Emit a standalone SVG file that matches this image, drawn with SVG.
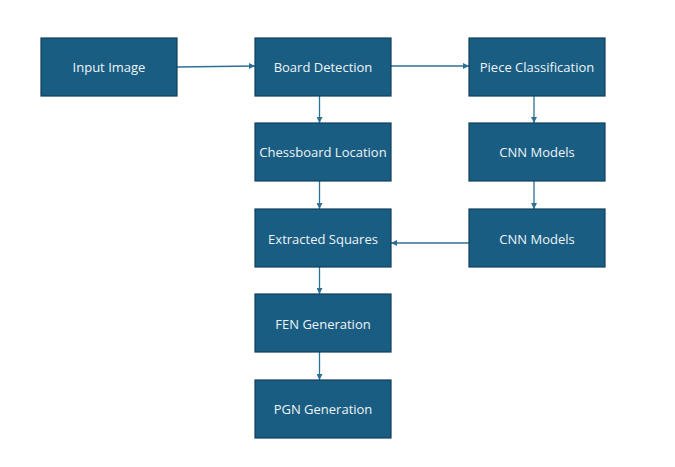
<svg xmlns="http://www.w3.org/2000/svg" width="675" height="467" viewBox="0 0 675 467">
<style>
.box{fill:#1a5d82;stroke:#123f5a;stroke-width:1.2}
.lbl{font-family:"Open Sans","Liberation Sans",sans-serif;font-size:13px;fill:#eef4f8;text-anchor:middle;dominant-baseline:central}
.edge{stroke:#2e6f94;stroke-width:1.3;fill:none;marker-end:url(#arr)}
</style>
<defs>
<marker id="arr" viewBox="0 0 10 10" refX="10" refY="5" markerWidth="6" markerHeight="6" markerUnits="userSpaceOnUse" orient="auto">
<path d="M0,0 L10,5 L0,10 z" fill="#2e6f94"/>
</marker>
</defs>
<rect width="675" height="467" fill="#ffffff"/>
<g id="connectors">
<line class="edge" x1="177" y1="67" x2="255" y2="66"/>
<line class="edge" x1="391" y1="66" x2="469" y2="66"/>
<line class="edge" x1="319.5" y1="96" x2="319.5" y2="123"/>
<line class="edge" x1="534" y1="96" x2="534" y2="123"/>
<line class="edge" x1="319.5" y1="181" x2="319.5" y2="209"/>
<line class="edge" x1="534" y1="181" x2="534" y2="209"/>
<line class="edge" x1="469" y1="243" x2="391" y2="243"/>
<line class="edge" x1="319.5" y1="267" x2="319.5" y2="294"/>
<line class="edge" x1="319.5" y1="352" x2="319.5" y2="380"/>
</g>
<g id="input-image"><rect class="box" x="41" y="38" width="136" height="58"/><text class="lbl" x="109" y="67">Input Image</text></g>
<g id="board-detection"><rect class="box" x="255" y="38" width="136" height="58"/><text class="lbl" x="323" y="67">Board Detection</text></g>
<g id="piece-classification"><rect class="box" x="469" y="38" width="136" height="58"/><text class="lbl" x="537" y="67">Piece Classification</text></g>
<g id="chessboard-location"><rect class="box" x="255" y="123" width="136" height="58"/><text class="lbl" x="323" y="152">Chessboard Location</text></g>
<g id="cnn-models-1"><rect class="box" x="469" y="123" width="136" height="58"/><text class="lbl" x="537" y="152">CNN Models</text></g>
<g id="extracted-squares"><rect class="box" x="255" y="209" width="136" height="58"/><text class="lbl" x="323" y="239">Extracted Squares</text></g>
<g id="cnn-models-2"><rect class="box" x="469" y="209" width="136" height="58"/><text class="lbl" x="537" y="239">CNN Models</text></g>
<g id="fen-generation"><rect class="box" x="255" y="294" width="136" height="58"/><text class="lbl" x="323" y="324">FEN Generation</text></g>
<g id="pgn-generation"><rect class="box" x="255" y="380" width="136" height="58"/><text class="lbl" x="323" y="409">PGN Generation</text></g>
</svg>
